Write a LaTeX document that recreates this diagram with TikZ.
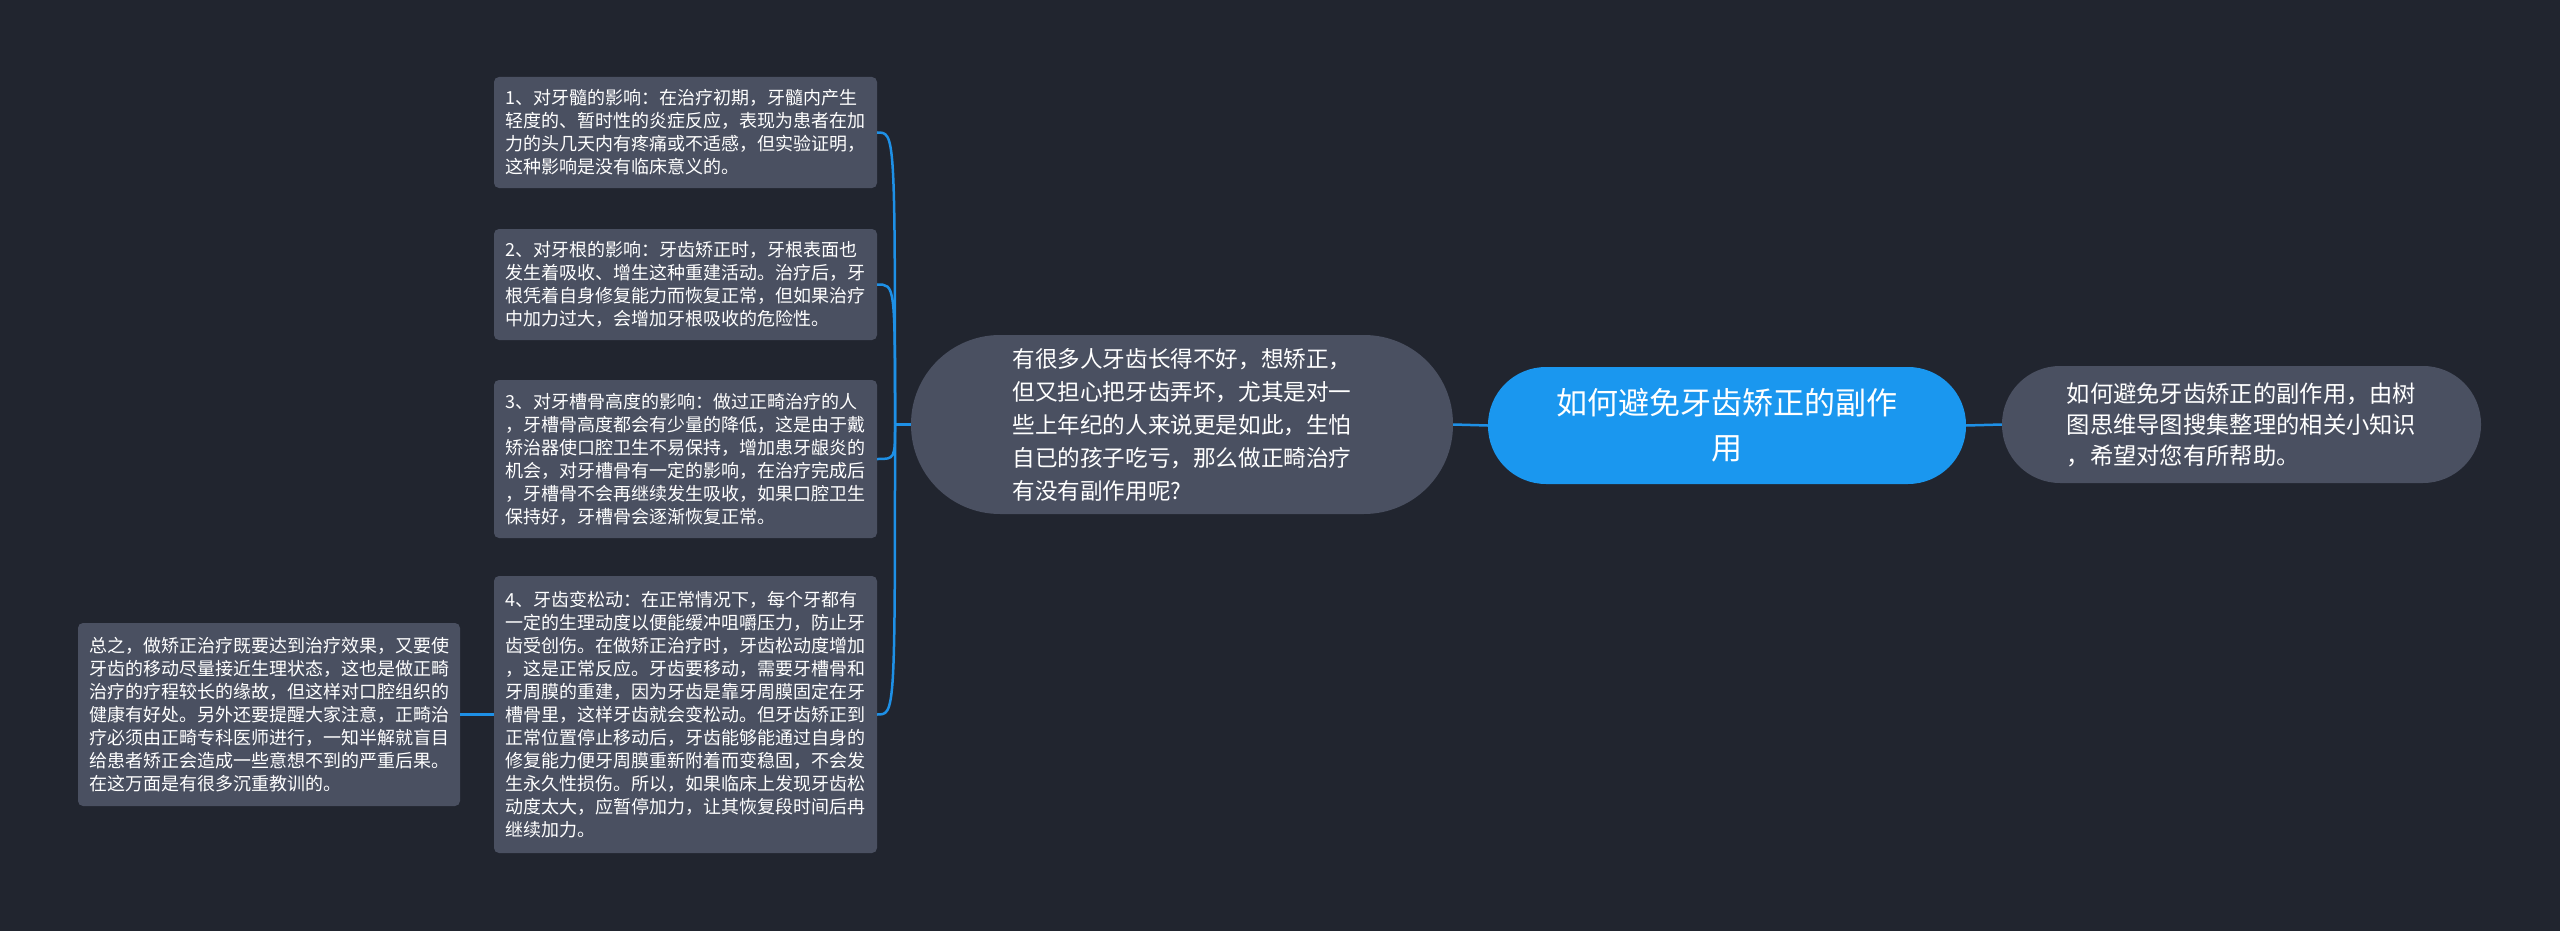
\documentclass[tikz,border=0pt]{standalone}
\usepackage{fontspec}
\setmainfont{Noto Sans CJK SC}
\usepackage{xcolor}
\usepackage{tikz}
\usetikzlibrary{positioning}
\definecolor{bgdark}{HTML}{21252F}
\definecolor{cardgray}{HTML}{4A5061}
\definecolor{topicblue}{HTML}{1A97EF}
\definecolor{linkblue}{HTML}{1E90E6}
\tikzset{
  card/.style={rectangle,fill=cardgray,rounded corners=5pt,text=white,align=left,inner sep=0pt,minimum width=383pt,font=\fontsize{18}{23}\selectfont},
  pill/.style={rectangle,fill=cardgray,text=white,align=left,inner sep=0pt},
  topic/.style={rectangle,fill=topicblue,text=white,align=center,inner sep=0pt,minimum width=478pt,minimum height=117pt,rounded corners=58pt,font=\fontsize{31}{45}\selectfont},
  link/.style={line width=2.5pt,draw=linkblue}
}

\begin{document}
\begin{tikzpicture}[x=1pt,y=1pt]
  \fill[bgdark] (0,0) rectangle (2560,-931);
  \useasboundingbox (0,0) rectangle (2560,-931);
  \node[topic] (root) at (1727,-425.5) {如何避免牙齿矫正的副作\\用};
  \node[pill,minimum width=542pt,minimum height=179pt,rounded corners=89pt,font=\fontsize{22.6}{33}\selectfont] (ask) at (1182,-424.5)
    {有很多人牙齿长得不好，想矫正，\\但又担心把牙齿弄坏，尤其是对一\\些上年纪的人来说更是如此，生怕\\自已的孩子吃亏，那么做正畸治疗\\有没有副作用呢?};
  \node[pill,minimum width=479pt,minimum height=117pt,rounded corners=58pt,font=\fontsize{23.3}{31}\selectfont] (note) at (2241.5,-424.5)
    {如何避免牙齿矫正的副作用，由树\\图思维导图搜集整理的相关小知识\\，希望对您有所帮助。};
  \node[card,minimum height=111pt] (pulp) at (685.5,-132.5)
    {1、对牙髓的影响：在治疗初期，牙髓内产生\\轻度的、暂时性的炎症反应，表现为患者在加\\力的头几天内有疼痛或不适感，但实验证明，\\这种影响是没有临床意义的。};
  \node[card,minimum height=111pt] (root2) at (685.5,-284.5)
    {2、对牙根的影响：牙齿矫正时，牙根表面也\\发生着吸收、增生这种重建活动。治疗后，牙\\根凭着自身修复能力而恢复正常，但如果治疗\\中加力过大，会增加牙根吸收的危险性。};
  \node[card,minimum height=158pt] (bone) at (685.5,-459)
    {3、对牙槽骨高度的影响：做过正畸治疗的人\\，牙槽骨高度都会有少量的降低，这是由于戴\\矫治器使口腔卫生不易保持，增加患牙龈炎的\\机会，对牙槽骨有一定的影响，在治疗完成后\\，牙槽骨不会再继续发生吸收，如果口腔卫生\\保持好，牙槽骨会逐渐恢复正常。};
  \node[card,minimum height=277pt] (loose) at (685.5,-714.5)
    {4、牙齿变松动：在正常情况下，每个牙都有\\一定的生理动度以便能缓冲咀嚼压力，防止牙\\齿受创伤。在做矫正治疗时，牙齿松动度增加\\，这是正常反应。牙齿要移动，需要牙槽骨和\\牙周膜的重建，因为牙齿是靠牙周膜固定在牙\\槽骨里，这样牙齿就会变松动。但牙齿矫正到\\正常位置停止移动后，牙齿能够能通过自身的\\修复能力便牙周膜重新附着而变稳固，不会发\\生永久性损伤。所以，如果临床上发现牙齿松\\动度太大，应暂停加力，让其恢复段时间后冉\\继续加力。};
  \node[card,minimum width=382pt,minimum height=183pt] (sum) at (269,-714.5)
    {总之，做矫正治疗既要达到治疗效果，又要使\\牙齿的移动尽量接近生理状态，这也是做正畸\\治疗的疗程较长的缘故，但这样对口腔组织的\\健康有好处。另外还要提醒大家注意，正畸治\\疗必须由正畸专科医师进行，一知半解就盲目\\给患者矫正会造成一些意想不到的严重后果。\\在这万面是有很多沉重教训的。};
  \coordinate (fork) at (895,-424.5);
  \draw[link] (root.east)--(note.west);
  \draw[link] (ask.east)--(root.west);
  \draw[link] (ask.west)--(fork);
  \foreach \n in {pulp,root2,bone,loose}
    \draw[link] (fork) .. controls (fork |- \n.east) .. (\n.east);
  \draw[link] (sum.east)--(loose.west);
\end{tikzpicture}
\end{document}
